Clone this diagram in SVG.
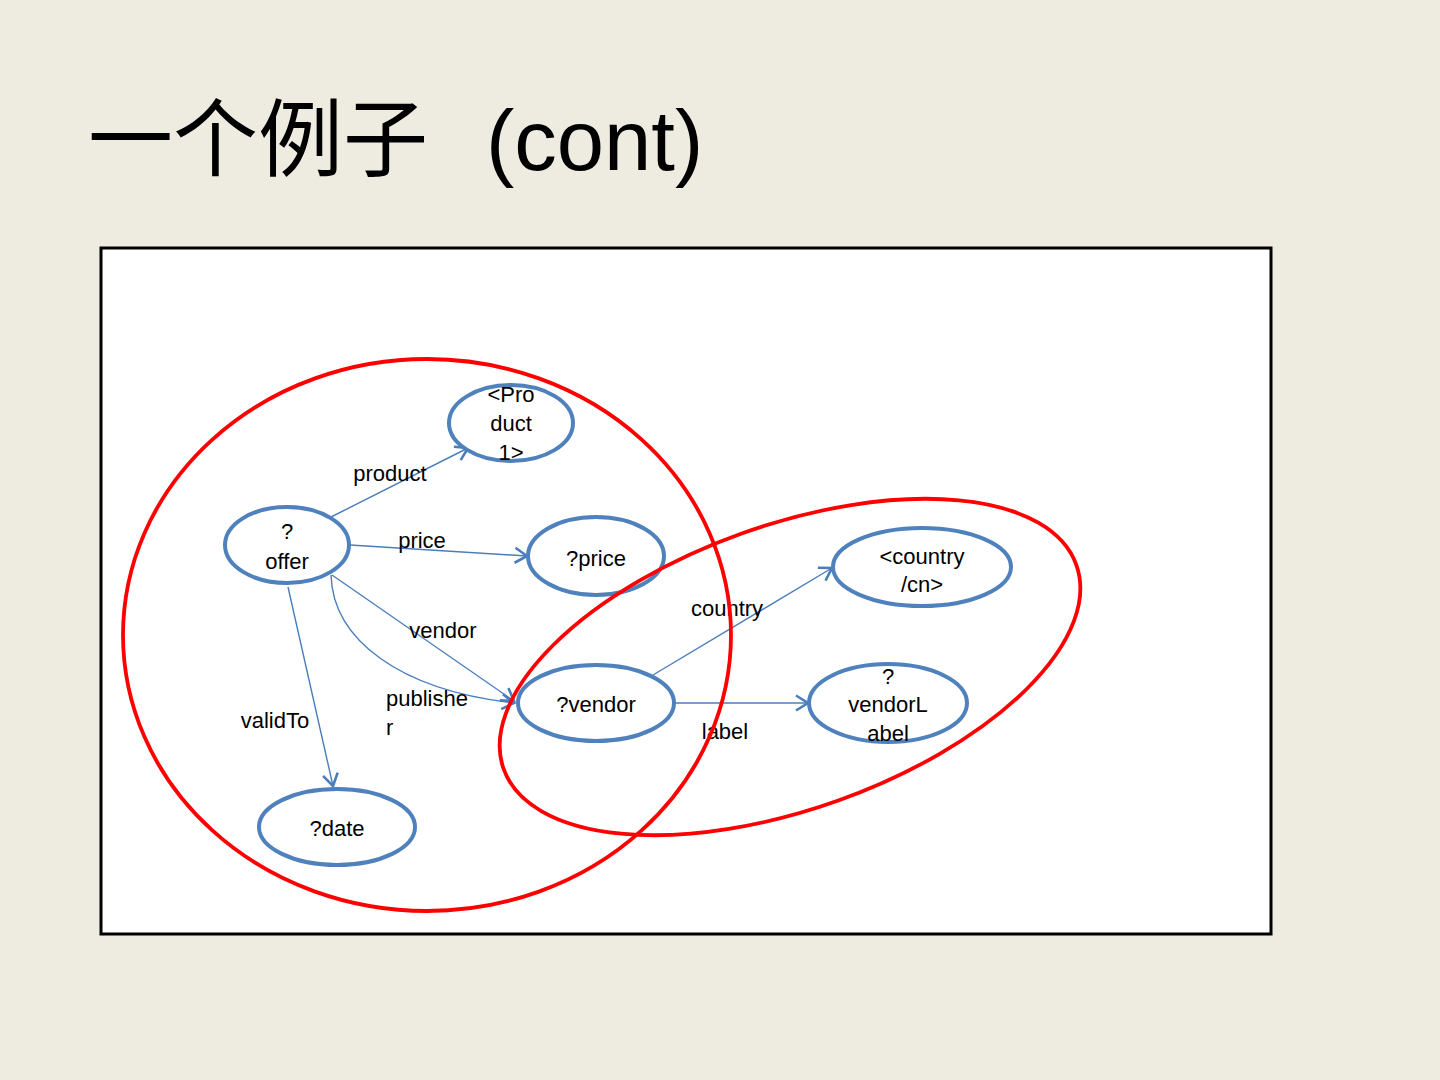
<svg xmlns="http://www.w3.org/2000/svg" width="1440" height="1080" viewBox="0 0 1440 1080">
<defs>
<style>
.node ellipse{fill:#fff;stroke:#4F81BD;stroke-width:4}
.node text,.elabel{font-family:"Liberation Sans",Arial,sans-serif;font-size:22px;fill:#000}
.node text{text-anchor:middle}
.edge{fill:none;stroke:#4A7EBB;stroke-width:1.4;marker-end:url(#arr)}
.group{fill:none;stroke:#FF0000;stroke-width:3.8}
</style>
<marker id="arr" markerUnits="userSpaceOnUse" markerWidth="18" markerHeight="18" refX="14" refY="9" orient="auto">
<path d="M2,1.5 L14,9 L2,16.5" fill="none" stroke="#4A7EBB" stroke-width="2.6"/>
</marker>
</defs>
<rect width="1440" height="1080" fill="#EEEBE1"/>
<text x="88" y="170" font-family="'Liberation Sans','Noto Sans CJK SC',sans-serif" font-size="85" fill="#000"><tspan>一个例子</tspan><tspan x="486">(cont)</tspan></text>
<rect x="101" y="248" width="1170" height="686" fill="#fff" stroke="#000" stroke-width="3"/>
<g id="connectors">
<path class="edge" d="M331,517 L468,448"/>
<path class="edge" d="M350,545 L527,556"/>
<path class="edge" d="M332,575 L514,701"/>
<path class="edge" d="M331,575 C333,640 400,690 514,703"/>
<path class="edge" d="M288,587 L333,786"/>
<path class="edge" d="M653,675 L832,568"/>
<path class="edge" d="M675,703 L808,703"/>
<text class="elabel" x="390" y="481" text-anchor="middle">product</text>
<text class="elabel" x="422" y="548" text-anchor="middle">price</text>
<text class="elabel" x="443" y="638" text-anchor="middle">vendor</text>
<text class="elabel" x="386" y="706">publishe</text>
<text class="elabel" x="386" y="735">r</text>
<text class="elabel" x="275" y="728" text-anchor="middle">validTo</text>
<text class="elabel" x="727" y="616" text-anchor="middle">country</text>
<text class="elabel" x="725" y="739" text-anchor="middle">label</text>
</g>
<g id="product1" class="node"><ellipse cx="511" cy="423" rx="62" ry="38"/><text x="511" y="402">&lt;Pro</text><text x="511" y="431">duct</text><text x="511" y="460">1&gt;</text></g>
<g id="offer" class="node"><ellipse cx="287" cy="545" rx="62" ry="38"/><text x="287" y="539">?</text><text x="287" y="569">offer</text></g>
<g id="price" class="node"><ellipse cx="596" cy="556" rx="68" ry="39"/><text x="596" y="566">?price</text></g>
<g id="vendor" class="node"><ellipse cx="596" cy="703" rx="78" ry="38"/><text x="596" y="712">?vendor</text></g>
<g id="date" class="node"><ellipse cx="337" cy="827" rx="78" ry="38"/><text x="337" y="836">?date</text></g>
<g id="country" class="node"><ellipse cx="922" cy="567" rx="89" ry="39"/><text x="922" y="564">&lt;country</text><text x="922" y="592">/cn&gt;</text></g>
<g id="vendorLabel" class="node"><ellipse cx="888" cy="703" rx="79" ry="39"/><text x="888" y="684">?</text><text x="888" y="712">vendorL</text><text x="888" y="741">abel</text></g>
<g id="groups">
<ellipse class="group" cx="427" cy="635" rx="304" ry="276"/>
<ellipse class="group" cx="790" cy="667" rx="304" ry="142" transform="rotate(-19.6 790 667)"/>
</g>
</svg>
